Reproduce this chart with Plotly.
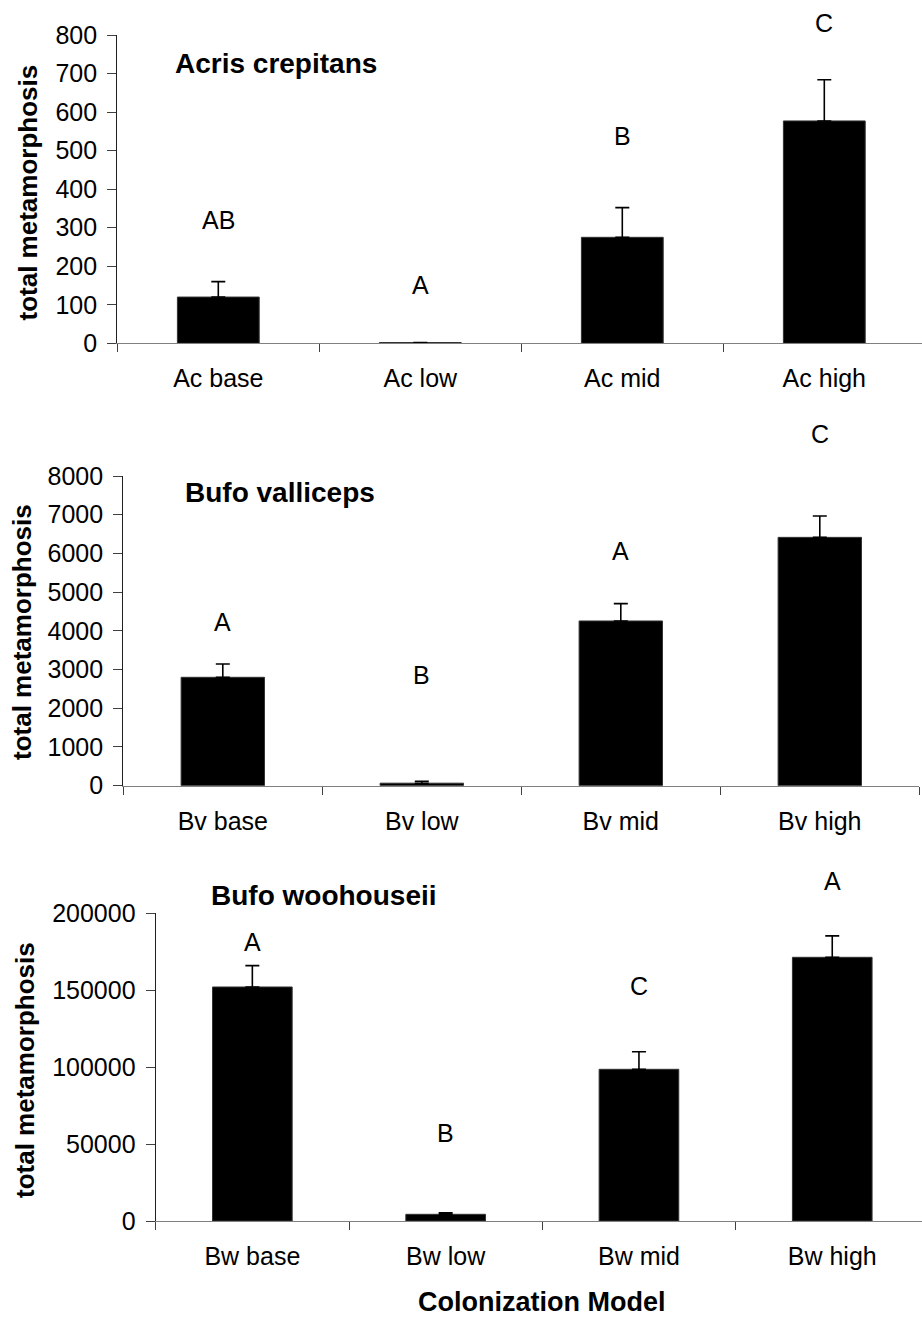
import plotly.graph_objects as go

W, H = 922, 1318

# ---------------- data ----------------
ac_cats = ["Ac base", "Ac low", "Ac mid", "Ac high"]
ac_vals = [120, 2, 275, 577]
ac_err = [40, 0, 77, 107]
ac_letters = ["AB", "A", "B", "C"]
ac_letter_y = [320, 151, 538, 832]

bv_cats = ["Bv base", "Bv low", "Bv mid", "Bv high"]
bv_vals = [2800, 65, 4255, 6415]
bv_err = [345, 50, 447, 550]
bv_letters = ["A", "B", "A", "C"]
bv_letter_y = [4237, 2860, 6071, 9077]

bw_cats = ["Bw base", "Bw low", "Bw mid", "Bw high"]
bw_vals = [152100, 4350, 98600, 171400]
bw_err = [13900, 1050, 11400, 13900]
bw_letters = ["A", "B", "C", "A"]
bw_letter_y = [181500, 57000, 152750, 221200]

titles = ["Acris crepitans", "Bufo valliceps", "Bufo woohouseii"]
y_ranges = [[0, 800], [0, 8000], [0, 200000]]
y_dtick = [100, 1000, 50000]
y_title = "total metamorphosis"
x_title = "Colonization Model"

# ---------------- layout geometry (pixels) ----------------
panels = [
    dict(xl=117.3, xr=922, y0=343.3, y1=35.0, cw=202.0),
    dict(xl=123.3, xr=919.3, y0=785.7, y1=476.0, cw=199.0),
    dict(xl=155.7, xr=922, y0=1221.0, y1=913.3, cw=193.3),
]

FONT = "Liberation Sans, Arial, sans-serif"
fig = go.Figure()
data = [
    (ac_cats, ac_vals, ac_err, ac_letters, ac_letter_y),
    (bv_cats, bv_vals, bv_err, bv_letters, bv_letter_y),
    (bw_cats, bw_vals, bw_err, bw_letters, bw_letter_y),
]
title_pos = [(173, 64), (183, 493), (209, 895)]
ytitle_pos = [(27, 192.5), (22, 632), (25, 1070)]
bar_w = [0.405, 0.419, 0.412]

annotations = []
for i, (cats, vals, errs, letters, ly) in enumerate(data):
    p = panels[i]
    sfx = "" if i == 0 else str(i + 1)
    xa = "x" + sfx
    ya = "y" + sfx
    fig.add_trace(go.Bar(
        x=cats, y=vals, xaxis=xa, yaxis=ya,
        width=bar_w[i],
        marker=dict(color="black", line=dict(color="#333333", width=1)),
        error_y=dict(type="data", array=errs, arrayminus=[0] * len(errs),
                     symmetric=False, color="black", thickness=1.6, width=7),
        showlegend=False,
    ))
    xend = -0.5 + (p["xr"] - p["xl"]) / p["cw"]
    fig.layout["xaxis" + sfx] = dict(
        domain=[p["xl"] / W, p["xr"] / W], anchor=ya,
        type="category", range=[-0.5, xend],
        showline=True, linecolor="#808080", linewidth=1.3,
        ticks="outside", tickson="boundaries", ticklen=8, tickcolor="#404040",
        tickwidth=1, showgrid=False, zeroline=False,
        tickfont=dict(family=FONT, size=25, color="black"),
        ticklabelstandoff=13,
        automargin=False,
        fixedrange=True,
    )
    fig.layout["yaxis" + sfx] = dict(
        domain=[1 - p["y0"] / H, 1 - p["y1"] / H], anchor=xa,
        range=y_ranges[i], dtick=y_dtick[i], tick0=0,
        showline=True, linecolor="#202020", linewidth=1.2,
        ticks="outside", ticklen=9, tickcolor="#404040", tickwidth=1,
        showgrid=False, zeroline=False,
        tickfont=dict(family=FONT, size=25, color="black"),
        ticklabelstandoff=5,
        tickformat="d",
        automargin=False,
        fixedrange=True,
    )
    # significance letters (y in axis-domain units so those above the range stay visible)
    ymin, ymax = y_ranges[i]
    for c, lab, yv in zip(cats, letters, ly):
        annotations.append(dict(x=c, y=(yv - ymin) / (ymax - ymin),
                                xref=xa, yref=ya + " domain", text=lab,
                                showarrow=False,
                                font=dict(family=FONT, size=25, color="black"),
                                xanchor="center", yanchor="middle"))
    tx, ty = title_pos[i]
    annotations.append(dict(x=tx / W, y=1 - ty / H, xref="paper", yref="paper",
                            text="<b>" + titles[i] + "</b>", showarrow=False,
                            font=dict(family=FONT, size=28, color="black"),
                            xanchor="left", yanchor="middle"))
    yx, yy = ytitle_pos[i]
    annotations.append(dict(x=yx / W, y=1 - yy / H, xref="paper", yref="paper",
                            text="<b>" + y_title + "</b>", showarrow=False,
                            textangle=-90,
                            font=dict(family=FONT, size=26, color="black"),
                            xanchor="center", yanchor="middle"))

annotations.append(dict(x=541.7 / W, y=1 - 1318 / H, xref="paper", yref="paper",
                        text="<b>" + x_title + "</b>", showarrow=False,
                        font=dict(family=FONT, size=27, color="black"),
                        xanchor="center", yanchor="bottom", borderpad=0))

fig.update_layout(
    width=W, height=H,
    margin=dict(l=0, r=0, t=0, b=0, autoexpand=False),
    paper_bgcolor="white", plot_bgcolor="white",
    annotations=annotations,
)
fig.write_html("out.html")
